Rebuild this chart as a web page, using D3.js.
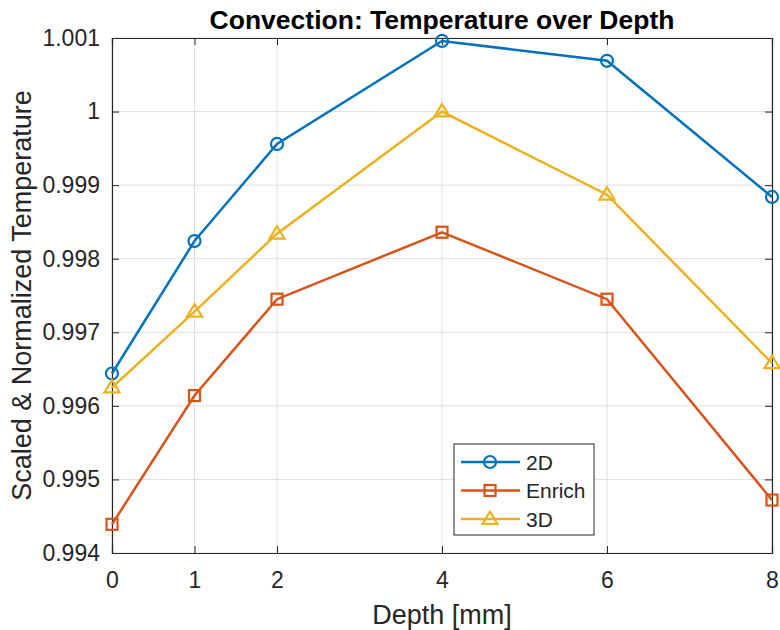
<!DOCTYPE html>
<html>
<head>
<script src="https://cdn.jsdelivr.net/npm/d3@7"></script>
<style>
  body { margin: 0; background: #fff; }
  text { font-family: "Liberation Sans", Arial, sans-serif; fill: #262626; }
</style>
</head>
<body>
<div id="chart"></div>
<script>
const depth = [0, 1, 2, 4, 6, 8];
const temp2D = [0.99644, 0.99824, 0.99956, 1.00096, 1.00069, 0.99884];
const tempEnrich = [0.99439, 0.99614, 0.99745, 0.99836, 0.99745, 0.99472];
const temp3D = [0.99625, 0.99728, 0.99834, 1.00000, 0.99887, 0.99658];
const xTicks = [0, 1, 2, 4, 6, 8];
const yTicks = [0.994, 0.995, 0.996, 0.997, 0.998, 0.999, 1.000, 1.001];
const seriesNames = ["2D", "Enrich", "3D"];
const seriesColors = ["#0072BD", "#D95319", "#EDB120"];
const seriesMarkers = ["circle", "square", "triangle"];

const W = 780, H = 630;
const margin = { top: 38, right: 8, bottom: 77, left: 112 };
const width = W - margin.left - margin.right;
const height = H - margin.top - margin.bottom;

const svg = d3.select("#chart").append("svg")
  .attr("width", W).attr("height", H);
const g = svg.append("g")
  .attr("transform", "translate(" + margin.left + "," + margin.top + ")");

const x = d3.scaleLinear().domain([0, 8]).range([0, width]);
const y = d3.scaleLinear().domain([0.994, 1.001]).range([height, 0]);

// grid
g.append("g").selectAll("line").data(xTicks).join("line")
  .attr("x1", d => x(d)).attr("x2", d => x(d))
  .attr("y1", 0).attr("y2", height)
  .attr("stroke", "#dfdfdf").attr("stroke-width", 1);
g.append("g").selectAll("line").data(yTicks).join("line")
  .attr("y1", d => y(d)).attr("y2", d => y(d))
  .attr("x1", 0).attr("x2", width)
  .attr("stroke", "#dfdfdf").attr("stroke-width", 1);

// axes (ticks inward, box)
const fmtY = d => d === 1 ? "1" : d3.format(".3f")(d);
const xAxis = g.append("g").attr("transform", "translate(0," + height + ")")
  .call(d3.axisBottom(x).tickValues(xTicks).tickSize(-7).tickPadding(19).tickFormat(d3.format("d")));
const yAxis = g.append("g")
  .call(d3.axisLeft(y).tickValues(yTicks).tickSize(-7).tickPadding(12).tickFormat(fmtY));
const xTop = g.append("g")
  .call(d3.axisTop(x).tickValues(xTicks).tickSize(-7).tickFormat(""));
const yRight = g.append("g").attr("transform", "translate(" + width + ",0)")
  .call(d3.axisRight(y).tickValues(yTicks).tickSize(-7).tickFormat(""));
[xAxis, yAxis, xTop, yRight].forEach(a => {
  a.selectAll("path").attr("stroke", "#262626").attr("stroke-width", 1.2);
  a.selectAll("line").attr("stroke", "#262626");
  a.selectAll("text").style("font-size", "23px").attr("fill", "#262626")
    .style("font-family", "'Liberation Sans', Arial, sans-serif");
});

// series
const allSeries = [temp2D, tempEnrich, temp3D];
const line = d3.line().x((d, i) => x(depth[i])).y(d => y(d));

function drawMarker(sel, type, color, cx, cy) {
  if (type === "circle") {
    sel.append("circle").attr("cx", cx).attr("cy", cy).attr("r", 6)
      .attr("fill", "none").attr("stroke", color).attr("stroke-width", 2.2);
  } else if (type === "square") {
    sel.append("rect").attr("x", cx - 5.5).attr("y", cy - 5.5)
      .attr("width", 11).attr("height", 11)
      .attr("fill", "none").attr("stroke", color).attr("stroke-width", 2.2);
  } else {
    const s = 7.5;
    sel.append("path")
      .attr("d", "M" + cx + "," + (cy - s) + "L" + (cx + s) + "," + (cy + s * 0.65) + "L" + (cx - s) + "," + (cy + s * 0.65) + "Z")
      .attr("fill", "none").attr("stroke", color).attr("stroke-width", 2.2);
  }
}

allSeries.forEach((vals, k) => {
  g.append("path").datum(vals)
    .attr("fill", "none").attr("stroke", seriesColors[k])
    .attr("stroke-width", 2.5).attr("d", line);
  const mg = g.append("g");
  vals.forEach((v, i) => drawMarker(mg, seriesMarkers[k], seriesColors[k], x(depth[i]), y(v)));
});

// legend
const lg = svg.append("g").attr("transform", "translate(454,444)");
lg.append("rect").attr("width", 140).attr("height", 91)
  .attr("fill", "#fff").attr("stroke", "#262626").attr("stroke-width", 1);
seriesNames.forEach((name, k) => {
  const cy = 18 + k * 28.5;
  lg.append("line").attr("x1", 7).attr("x2", 66).attr("y1", cy).attr("y2", cy)
    .attr("stroke", seriesColors[k]).attr("stroke-width", 2.5);
  drawMarker(lg, seriesMarkers[k], seriesColors[k], 36, cy);
  lg.append("text").attr("x", 72).attr("y", cy + 7.5)
    .style("font-size", "21px").text(name);
});

// title and labels
svg.append("text").attr("x", margin.left + width / 2).attr("y", 29)
  .attr("text-anchor", "middle").style("font-size", "26.5px").style("font-weight", "bold")
  .style("fill", "#000")
  .text("Convection: Temperature over Depth");
svg.append("text").attr("x", margin.left + width / 2).attr("y", 624)
  .attr("text-anchor", "middle").style("font-size", "27px")
  .text("Depth [mm]");
svg.append("text")
  .attr("transform", "translate(31," + (margin.top + height / 2) + ") rotate(-90)")
  .attr("text-anchor", "middle").style("font-size", "27px")
  .text("Scaled & Normalized Temperature");
</script>
</body>
</html>
